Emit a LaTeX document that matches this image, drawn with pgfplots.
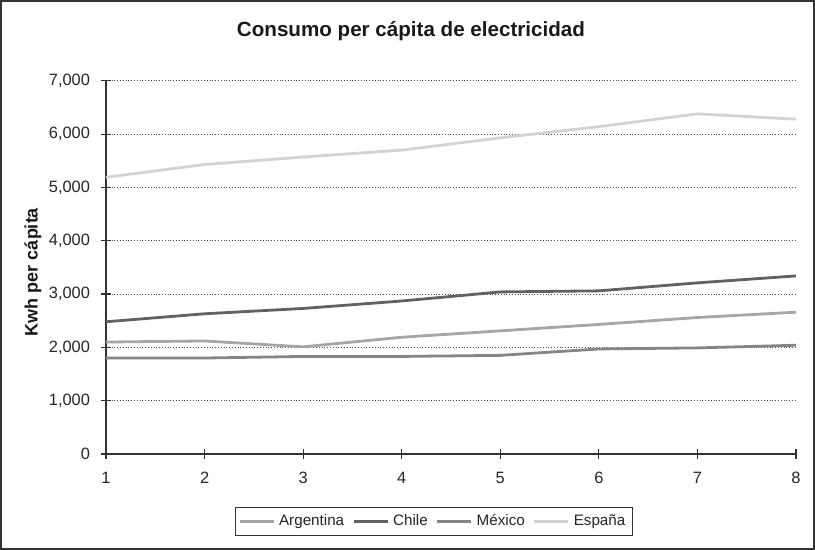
\documentclass[border=0pt]{standalone}
\usepackage{fontspec}
\setmainfont{Liberation Sans}
\usepackage{pgfplots}
\pgfplotsset{compat=1.18}
\definecolor{cArg}{HTML}{A6A6A6}
\definecolor{cChi}{HTML}{616161}
\definecolor{cMex}{HTML}{858585}
\definecolor{cEsp}{HTML}{D3D3D3}
\begin{document}
\begin{tikzpicture}[x=1pt,y=1pt]
\useasboundingbox (0,0) rectangle (407.5,-275);
\draw[line width=0.6pt, black!80] (0.5,-0.5) rectangle (407,-274.5);
\node[font=\bfseries\fontsize{10.3}{12}\selectfont, text=black!90] at (205.5,-15.5) {Consumo per cápita de electricidad};
\node[font=\bfseries\fontsize{9}{11}\selectfont, rotate=90, text=black!90] at (16.5,-136) {Kwh per cápita};
\begin{axis}[
  at={(53pt,-227pt)}, anchor=south west,
  scale only axis, width=345pt, height=186.6pt,
  xmin=1, xmax=8, ymin=0, ymax=7000,
  axis x line=bottom, axis y line=left,
  axis line style={-, black!80, line width=0.6pt},
  xtick={1,...,8}, ytick={0,1000,...,7000},
  tick align=center, major tick length=5pt,
  tick style={black!80, line width=0.6pt},
  ymajorgrids, grid style={densely dotted, black!70, line width=0.4pt},
  /pgf/number format/.cd, 1000 sep={,}, assume math mode=true,
  /pgfplots/.cd,
  ticklabel style={font=\fontsize{8.2}{10}\selectfont, text=black!85},
  yticklabel style={xshift=-2pt},
  xticklabel style={yshift=-3pt},
  legend columns=4,
  legend style={at={(0.475,-0.181)}, anchor=center, draw=black!80, line width=0.6pt,
    font=\fontsize{7.6}{9}\selectfont, inner sep=1.5pt, text=black!85,
    /tikz/every even column/.append style={column sep=2pt}},
  legend cell align=left,
  legend image code/.code={\draw[#1] (0cm,0cm) -- (0.6cm,0cm);},
  every axis plot/.append style={line width=1.4pt, line join=round},
]
\addplot[cArg] coordinates {(1,2100)(2,2120)(3,2010)(4,2190)(5,2310)(6,2430)(7,2560)(8,2660)};
\addlegendentry{Argentina}
\addplot[cChi] coordinates {(1,2480)(2,2630)(3,2730)(4,2870)(5,3040)(6,3060)(7,3210)(8,3340)};
\addlegendentry{Chile}
\addplot[cMex] coordinates {(1,1800)(2,1800)(3,1830)(4,1830)(5,1850)(6,1970)(7,1990)(8,2040)};
\addlegendentry{México}
\addplot[cEsp] coordinates {(1,5190)(2,5430)(3,5570)(4,5700)(5,5930)(6,6140)(7,6380)(8,6280)};
\addlegendentry{España}
\end{axis}
\end{tikzpicture}
\end{document}
